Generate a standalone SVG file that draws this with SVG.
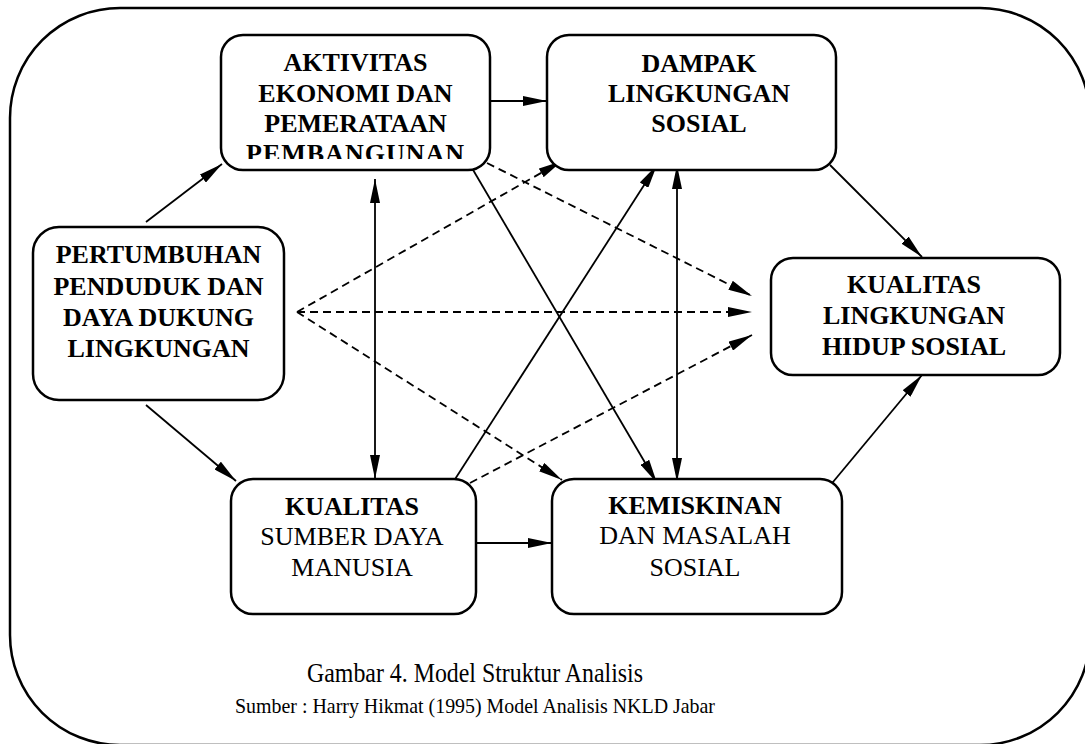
<svg xmlns="http://www.w3.org/2000/svg" width="1085" height="744" viewBox="0 0 1085 744">
<style>
.frame{fill:none;stroke:#000;stroke-width:2.5}
.box{fill:#fff;stroke:#000;stroke-width:2.5}
.t{font-family:"Liberation Serif","Times New Roman",serif;font-size:26px;fill:#000;text-anchor:middle}
.b{font-weight:bold}
.cap{font-family:"Liberation Serif","Times New Roman",serif;fill:#000;text-anchor:middle}
.ln{fill:none;stroke:#000;stroke-width:1.8;marker-end:url(#ah)}
.dbl{marker-start:url(#ah)}
.ds{stroke-dasharray:8 5}
</style>
<defs>
<marker id="ah" markerUnits="userSpaceOnUse" viewBox="0 0 24 10" refX="24" refY="5" markerWidth="24" markerHeight="10" orient="auto-start-reverse">
<path d="M0,0 L24,5 L0,10 Z" fill="#000"/>
</marker>
<clipPath id="clipA"><rect x="221" y="35" width="270" height="124"/></clipPath>
</defs>
<rect fill="#fff" x="0" y="0" width="1085" height="744"/>
<rect class="frame" x="10" y="8" width="1080" height="737" rx="110" ry="110"/>

<g id="connectors">
<line class="ln" x1="146" y1="222" x2="222" y2="164"/>
<line class="ln" x1="146" y1="405" x2="236" y2="481"/>
<line class="ln" x1="490" y1="101" x2="547" y2="101"/>
<line class="ln dbl" x1="375" y1="179" x2="375" y2="479"/>
<line class="ln dbl" x1="677" y1="165" x2="677" y2="482"/>
<line class="ln" x1="469" y1="163" x2="657" y2="483"/>
<line class="ln" x1="450" y1="487" x2="657" y2="165"/>
<line class="ln" x1="476" y1="543" x2="552" y2="543"/>
<line class="ln" x1="830" y1="165" x2="922" y2="257"/>
<line class="ln" x1="828" y1="488" x2="922" y2="375"/>
<line class="ln ds" x1="297" y1="312" x2="562" y2="161"/>
<line class="ln ds" x1="297" y1="312" x2="752" y2="312"/>
<line class="ln ds" x1="297" y1="312" x2="562" y2="480"/>
<line class="ln ds" x1="487" y1="163" x2="752" y2="296"/>
<line class="ln ds" x1="470" y1="483" x2="752" y2="335"/>
</g>

<g id="aktivitas">
<rect class="box" x="221" y="35" width="269" height="135" rx="22"/>
<g clip-path="url(#clipA)">
<text class="t b" x="355.5" y="71">AKTIVITAS</text>
<text class="t b" x="355.5" y="101.5">EKONOMI DAN</text>
<text class="t b" x="355.5" y="132">PEMERATAAN</text>
<text class="t b" x="355.5" y="162" letter-spacing="1">PEMBANGUNAN</text>
</g>
</g>

<g id="dampak">
<rect class="box" x="547" y="35" width="289" height="135" rx="22"/>
<text class="t b" x="699" y="72">DAMPAK</text>
<text class="t b" x="699" y="102">LINGKUNGAN</text>
<text class="t b" x="699" y="132">SOSIAL</text>
</g>

<g id="pertumbuhan">
<rect class="box" x="33" y="227" width="251" height="173" rx="26"/>
<text class="t b" x="158.5" y="263">PERTUMBUHAN</text>
<text class="t b" x="158.5" y="295">PENDUDUK DAN</text>
<text class="t b" x="158.5" y="326">DAYA DUKUNG</text>
<text class="t b" x="158.5" y="357">LINGKUNGAN</text>
</g>

<g id="kualitas-sdm">
<rect class="box" x="231" y="479" width="245" height="135" rx="22"/>
<text class="t b" x="352" y="515">KUALITAS</text>
<text class="t" x="352" y="545">SUMBER DAYA</text>
<text class="t" x="352" y="576">MANUSIA</text>
</g>

<g id="kemiskinan">
<rect class="box" x="552" y="479" width="290" height="135" rx="22"/>
<text class="t b" x="695" y="514">KEMISKINAN</text>
<text class="t" x="695" y="544">DAN MASALAH</text>
<text class="t" x="695" y="576">SOSIAL</text>
</g>

<g id="kualitas-lingkungan">
<rect class="box" x="771" y="258" width="289" height="117" rx="22"/>
<text class="t b" x="914" y="293">KUALITAS</text>
<text class="t b" x="914" y="323.5">LINGKUNGAN</text>
<text class="t b" x="914" y="355">HIDUP SOSIAL</text>
</g>

<g id="caption">
<text class="cap" x="475" y="682" font-size="28" textLength="336" lengthAdjust="spacingAndGlyphs">Gambar 4. Model Struktur Analisis</text>
<text class="cap" x="475" y="713" font-size="22" textLength="480" lengthAdjust="spacingAndGlyphs">Sumber : Harry Hikmat (1995) Model Analisis NKLD Jabar</text>
</g>
</svg>
